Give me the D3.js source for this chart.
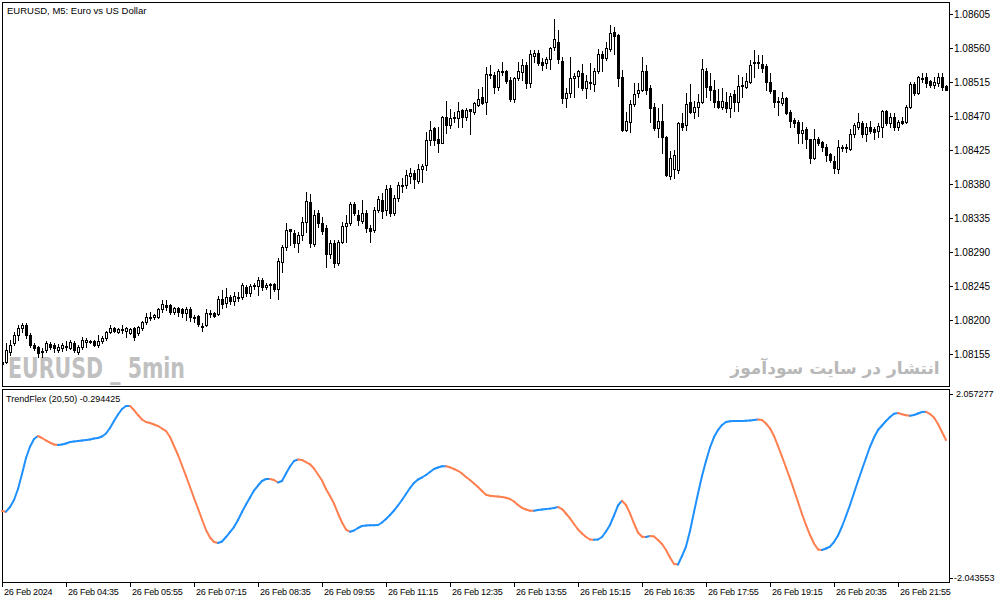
<!doctype html>
<html>
<head>
<meta charset="utf-8">
<script src="https://d3js.org/d3.v7.min.js"></script>
<style>
  body { margin: 0; background: #fff; }
  svg { display: block; }
  text { font-family: "Liberation Sans", Arial, sans-serif; fill: #000; }
</style>
</head>
<body>
<div class="chart"></div>
<script>
// EURUSD M5, 26 Feb 2024, one bar every 5 minutes from 03:15
var opens = [
1.08144,1.08144,1.08158,1.08170,1.08180,1.08189,1.08193,1.08180,1.08167,1.08164,
1.08158,1.08160,1.08168,1.08167,1.08160,1.08163,1.08164,1.08163,1.08170,1.08158,
1.08164,1.08171,1.08171,1.08172,1.08167,1.08172,1.08176,1.08184,1.08189,1.08184,
1.08187,1.08185,1.08183,1.08189,1.08183,1.08189,1.08197,1.08203,1.08204,1.08204,
1.08215,1.08220,1.08220,1.08211,1.08216,1.08215,1.08209,1.08215,1.08204,1.08205,
1.08192,1.08193,1.08208,1.08209,1.08208,1.08228,1.08222,1.08230,1.08225,1.08229,
1.08230,1.08244,1.08236,1.08245,1.08245,1.08253,1.08244,1.08246,1.08248,1.08241,
1.08277,1.08297,1.08320,1.08315,1.08302,1.08312,1.08330,1.08356,1.08301,1.08342,
1.08328,1.08322,1.08287,1.08302,1.08275,1.08303,1.08324,1.08328,1.08353,1.08339,
1.08331,1.08342,1.08322,1.08319,1.08346,1.08359,1.08346,1.08375,1.08342,1.08361,
1.08377,1.08379,1.08391,1.08395,1.08384,1.08400,1.08405,1.08438,1.08454,1.08440,
1.08434,1.08469,1.08458,1.08467,1.08467,1.08478,1.08469,1.08479,1.08475,1.08485,
1.08495,1.08488,1.08524,1.08524,1.08508,1.08528,1.08530,1.08518,1.08492,1.08520,
1.08528,1.08537,1.08514,1.08549,1.08553,1.08541,1.08540,1.08545,1.08561,1.08568,
1.08543,1.08494,1.08500,1.08520,1.08523,1.08527,1.08507,1.08514,1.08512,1.08530,
1.08552,1.08547,1.08559,1.08581,1.08577,1.08522,1.08451,1.08462,1.08486,1.08500,
1.08504,1.08530,1.08507,1.08482,1.08454,1.08463,1.08442,1.08391,1.08400,1.08398,
1.08461,1.08458,1.08488,1.08475,1.08482,1.08488,1.08530,1.08510,1.08504,1.08490,
1.08482,1.08488,1.08481,1.08499,1.08488,1.08510,1.08508,1.08515,1.08540,1.08541,
1.08539,1.08536,1.08515,1.08504,1.08490,1.08487,1.08494,1.08475,1.08465,1.08462,
1.08447,1.08453,1.08440,1.08414,1.08440,1.08436,1.08429,1.08420,1.08410,1.08400,
1.08429,1.08428,1.08426,1.08446,1.08455,1.08461,1.08446,1.08455,1.08453,1.08450,
1.08455,1.08477,1.08461,1.08469,1.08455,1.08463,1.08462,1.08482,1.08512,1.08500,
1.08519,1.08522,1.08516,1.08511,1.08514,1.08522,1.08510];

var highs = [
1.08146,1.08170,1.08173,1.08184,1.08193,1.08196,1.08196,1.08183,1.08170,1.08166,
1.08163,1.08172,1.08171,1.08170,1.08168,1.08170,1.08172,1.08173,1.08172,1.08167,
1.08177,1.08176,1.08173,1.08173,1.08180,1.08179,1.08185,1.08193,1.08191,1.08189,
1.08193,1.08191,1.08189,1.08191,1.08192,1.08199,1.08209,1.08211,1.08208,1.08216,
1.08226,1.08226,1.08221,1.08217,1.08217,1.08216,1.08217,1.08217,1.08207,1.08207,
1.08196,1.08215,1.08213,1.08211,1.08232,1.08240,1.08242,1.08233,1.08237,1.08237,
1.08249,1.08246,1.08248,1.08249,1.08257,1.08256,1.08249,1.08249,1.08249,1.08282,
1.08299,1.08328,1.08320,1.08319,1.08316,1.08336,1.08369,1.08367,1.08346,1.08346,
1.08336,1.08326,1.08306,1.08306,1.08306,1.08330,1.08339,1.08356,1.08356,1.08346,
1.08359,1.08346,1.08326,1.08350,1.08364,1.08368,1.08379,1.08379,1.08365,1.08383,
1.08388,1.08398,1.08401,1.08398,1.08406,1.08406,1.08449,1.08463,1.08455,1.08455,
1.08470,1.08490,1.08479,1.08475,1.08488,1.08479,1.08481,1.08479,1.08488,1.08506,
1.08508,1.08535,1.08537,1.08528,1.08532,1.08541,1.08531,1.08522,1.08522,1.08541,
1.08545,1.08541,1.08557,1.08557,1.08557,1.08547,1.08548,1.08561,1.08598,1.08584,
1.08548,1.08507,1.08548,1.08527,1.08531,1.08539,1.08524,1.08540,1.08533,1.08559,
1.08556,1.08568,1.08590,1.08588,1.08579,1.08531,1.08475,1.08491,1.08514,1.08514,
1.08548,1.08537,1.08511,1.08487,1.08481,1.08486,1.08443,1.08424,1.08425,1.08462,
1.08474,1.08500,1.08512,1.08490,1.08499,1.08545,1.08533,1.08527,1.08518,1.08506,
1.08507,1.08502,1.08500,1.08504,1.08524,1.08522,1.08527,1.08544,1.08557,1.08551,
1.08551,1.08539,1.08527,1.08504,1.08495,1.08502,1.08495,1.08478,1.08467,1.08465,
1.08462,1.08455,1.08440,1.08453,1.08442,1.08437,1.08433,1.08421,1.08417,1.08438,
1.08432,1.08433,1.08453,1.08461,1.08474,1.08463,1.08461,1.08463,1.08455,1.08461,
1.08478,1.08478,1.08474,1.08474,1.08465,1.08469,1.08485,1.08515,1.08515,1.08523,
1.08527,1.08527,1.08518,1.08522,1.08527,1.08527,1.08511];

var lows = [
1.08139,1.08143,1.08154,1.08167,1.08173,1.08184,1.08176,1.08164,1.08160,1.08151,
1.08151,1.08158,1.08162,1.08158,1.08158,1.08159,1.08160,1.08162,1.08158,1.08155,
1.08162,1.08164,1.08170,1.08166,1.08164,1.08170,1.08173,1.08183,1.08184,1.08183,
1.08183,1.08177,1.08181,1.08173,1.08180,1.08187,1.08195,1.08200,1.08201,1.08203,
1.08211,1.08213,1.08208,1.08208,1.08205,1.08204,1.08200,1.08199,1.08197,1.08192,
1.08185,1.08192,1.08204,1.08204,1.08207,1.08216,1.08217,1.08221,1.08220,1.08225,
1.08228,1.08232,1.08232,1.08241,1.08233,1.08240,1.08241,1.08229,1.08238,1.08228,
1.08264,1.08293,1.08299,1.08297,1.08290,1.08306,1.08316,1.08297,1.08298,1.08323,
1.08314,1.08270,1.08282,1.08270,1.08273,1.08302,1.08303,1.08326,1.08339,1.08326,
1.08328,1.08316,1.08303,1.08316,1.08343,1.08335,1.08339,1.08338,1.08339,1.08357,
1.08369,1.08375,1.08381,1.08375,1.08381,1.08383,1.08398,1.08432,1.08432,1.08422,
1.08434,1.08447,1.08454,1.08462,1.08455,1.08455,1.08465,1.08446,1.08473,1.08483,
1.08486,1.08473,1.08520,1.08500,1.08504,1.08524,1.08514,1.08490,1.08488,1.08518,
1.08518,1.08507,1.08508,1.08541,1.08537,1.08531,1.08533,1.08532,1.08557,1.08540,
1.08487,1.08482,1.08495,1.08495,1.08508,1.08504,1.08494,1.08506,1.08503,1.08527,
1.08530,1.08544,1.08556,1.08552,1.08510,1.08450,1.08450,1.08449,1.08483,1.08495,
1.08503,1.08499,1.08462,1.08451,1.08442,1.08421,1.08390,1.08387,1.08388,1.08395,
1.08451,1.08451,1.08474,1.08467,1.08470,1.08487,1.08495,1.08491,1.08482,1.08481,
1.08479,1.08475,1.08469,1.08477,1.08477,1.08495,1.08507,1.08514,1.08522,1.08533,
1.08528,1.08504,1.08500,1.08482,1.08471,1.08485,1.08473,1.08455,1.08455,1.08434,
1.08434,1.08428,1.08408,1.08413,1.08432,1.08424,1.08410,1.08409,1.08395,1.08395,
1.08424,1.08422,1.08425,1.08442,1.08453,1.08442,1.08437,1.08447,1.08440,1.08442,
1.08442,1.08458,1.08455,1.08451,1.08451,1.08460,1.08461,1.08481,1.08498,1.08499,
1.08515,1.08508,1.08508,1.08507,1.08510,1.08504,1.08504];

var closes = [
1.08142,1.08160,1.08167,1.08180,1.08189,1.08193,1.08180,1.08167,1.08163,1.08156,
1.08159,1.08170,1.08164,1.08163,1.08164,1.08167,1.08166,1.08171,1.08160,1.08164,
1.08173,1.08173,1.08172,1.08167,1.08172,1.08176,1.08184,1.08189,1.08185,1.08188,
1.08188,1.08189,1.08188,1.08177,1.08191,1.08197,1.08204,1.08204,1.08207,1.08215,
1.08221,1.08217,1.08211,1.08216,1.08211,1.08209,1.08215,1.08204,1.08203,1.08195,
1.08191,1.08209,1.08209,1.08205,1.08228,1.08221,1.08230,1.08225,1.08232,1.08230,
1.08246,1.08236,1.08245,1.08246,1.08253,1.08244,1.08246,1.08248,1.08241,1.08278,
1.08297,1.08319,1.08318,1.08302,1.08312,1.08330,1.08357,1.08302,1.08339,1.08328,
1.08318,1.08287,1.08302,1.08275,1.08303,1.08324,1.08328,1.08353,1.08342,1.08332,
1.08342,1.08322,1.08318,1.08346,1.08360,1.08344,1.08373,1.08342,1.08361,1.08379,
1.08379,1.08392,1.08395,1.08387,1.08400,1.08404,1.08438,1.08451,1.08438,1.08434,
1.08469,1.08458,1.08467,1.08469,1.08477,1.08469,1.08478,1.08477,1.08487,1.08492,
1.08487,1.08526,1.08526,1.08508,1.08530,1.08530,1.08516,1.08492,1.08520,1.08530,
1.08537,1.08514,1.08552,1.08553,1.08540,1.08537,1.08545,1.08560,1.08572,1.08545,
1.08494,1.08500,1.08520,1.08523,1.08530,1.08507,1.08516,1.08515,1.08530,1.08552,
1.08547,1.08560,1.08580,1.08576,1.08520,1.08451,1.08463,1.08486,1.08499,1.08504,
1.08530,1.08504,1.08481,1.08454,1.08463,1.08442,1.08392,1.08414,1.08418,1.08461,
1.08455,1.08486,1.08475,1.08482,1.08488,1.08532,1.08508,1.08504,1.08488,1.08482,
1.08490,1.08481,1.08496,1.08488,1.08510,1.08511,1.08516,1.08537,1.08541,1.08540,
1.08533,1.08515,1.08503,1.08488,1.08488,1.08494,1.08474,1.08463,1.08461,1.08447,
1.08451,1.08440,1.08414,1.08440,1.08434,1.08429,1.08418,1.08412,1.08401,1.08429,
1.08428,1.08429,1.08446,1.08458,1.08462,1.08446,1.08455,1.08450,1.08449,1.08457,
1.08477,1.08461,1.08469,1.08455,1.08462,1.08461,1.08482,1.08512,1.08500,1.08522,
1.08520,1.08514,1.08511,1.08515,1.08522,1.08508,1.08504];

// TrendFlex (20,50), one value per bar
var trendflex = [
-0.552,-0.568,-0.463,-0.306,-0.060,0.275,0.633,0.885,1.058,1.125,
1.080,1.024,0.979,0.935,0.923,0.935,0.957,0.991,1.002,1.013,
1.024,1.035,1.046,1.069,1.080,1.114,1.181,1.304,1.460,1.605,
1.728,1.795,1.795,1.706,1.594,1.494,1.438,1.415,1.382,1.348,
1.292,1.237,1.102,0.901,0.700,0.465,0.230,-0.016,-0.262,-0.496,
-0.742,-0.977,-1.145,-1.245,-1.268,-1.234,-1.134,-1.022,-0.910,-0.754,
-0.575,-0.407,-0.250,-0.094,0.018,0.119,0.163,0.163,0.141,0.085,
0.119,0.286,0.443,0.566,0.599,0.588,0.543,0.492,0.398,0.264,
0.130,-0.060,-0.217,-0.385,-0.608,-0.809,-0.966,-1.015,-0.988,-0.932,
-0.888,-0.877,-0.872,-0.870,-0.865,-0.809,-0.731,-0.642,-0.541,-0.429,
-0.306,-0.172,-0.038,0.074,0.152,0.197,0.253,0.320,0.387,0.420,
0.447,0.449,0.425,0.387,0.347,0.286,0.208,0.141,0.063,-0.016,
-0.105,-0.190,-0.212,-0.221,-0.228,-0.239,-0.257,-0.284,-0.340,-0.418,
-0.481,-0.519,-0.546,-0.548,-0.530,-0.519,-0.508,-0.499,-0.485,-0.463,
-0.508,-0.608,-0.716,-0.843,-0.966,-1.055,-1.134,-1.190,-1.196,-1.190,
-1.134,-1.011,-0.865,-0.653,-0.429,-0.322,-0.418,-0.604,-0.832,-1.033,
-1.127,-1.134,-1.111,-1.123,-1.201,-1.290,-1.424,-1.592,-1.737,-1.749,
-1.559,-1.346,-0.999,-0.575,-0.161,0.230,0.566,0.868,1.102,1.259,
1.371,1.438,1.456,1.460,1.460,1.460,1.465,1.471,1.482,1.494,
1.482,1.404,1.297,1.125,0.901,0.666,0.420,0.179,-0.083,-0.351,
-0.619,-0.865,-1.089,-1.279,-1.413,-1.424,-1.391,-1.351,-1.245,-1.100,
-0.899,-0.664,-0.418,-0.150,0.119,0.376,0.633,0.885,1.091,1.259,
1.360,1.460,1.550,1.621,1.639,1.612,1.588,1.579,1.594,1.628,
1.661,1.666,1.617,1.538,1.393,1.214,1.035];

var priceTicks = [1.08155,1.08200,1.08245,1.08290,1.08335,1.08380,1.08425,1.08470,1.08515,1.08560,1.08605];
var flexRange = [-2.043553, 2.057277];
var timeBars = [0,16,32,48,64,80,96,112,128,144,160,176,192,208,224];
var timeLabels = ["26 Feb 2024","26 Feb 04:35","26 Feb 05:55","26 Feb 07:15","26 Feb 08:35",
  "26 Feb 09:55","26 Feb 11:15","26 Feb 12:35","26 Feb 13:55","26 Feb 15:15",
  "26 Feb 16:35","26 Feb 17:55","26 Feb 19:15","26 Feb 20:35","26 Feb 21:55"];

var width = 1003, height = 603;
var left = 2, right = 949, mainTop = 2, mainBottom = 386, subTop = 389, subBottom = 582;

var svg = d3.select('.chart').append('svg')
  .attr('width', width).attr('height', height);

var x = d3.scaleLinear().domain([0, closes.length - 1]).range([2, 946]);
var y = d3.scaleLinear().domain([1.08155, 1.08605]).range([354, 14]);
var yf = d3.scaleLinear().domain(flexRange).range([577.7, 394.3]);

svg.append('defs').append('clipPath').attr('id', 'mainclip')
  .append('rect').attr('x', left).attr('y', mainTop).attr('width', right - left).attr('height', mainBottom - mainTop);

// watermarks
svg.append('text')
  .attr('x', 8).attr('y', 378)
  .attr('textLength', 177).attr('lengthAdjust', 'spacingAndGlyphs')
  .style('font-family', '"Liberation Sans Narrow", "DejaVu Sans Condensed", sans-serif')
  .style('font-weight', 'bold').style('font-size', '29px').style('fill', '#c0c0c0')
  .text('EURUSD _ 5min');

svg.append('text')
  .attr('x', 835).attr('y', 374)
  .attr('text-anchor', 'middle')
  .style('font-family', '"DejaVu Sans", sans-serif')
  .style('font-weight', 'bold').style('font-size', '17px').style('fill', '#b8b8b8')
  .text('انتشار در سایت سودآموز');

// candles
var candles = svg.append('g').attr('clip-path', 'url(#mainclip)')
  .attr('shape-rendering', 'crispEdges')
  .selectAll('g').data(closes).enter().append('g');

candles.append('line')
  .attr('x1', function(d, i){ return Math.round(x(i)) + 0.5; })
  .attr('x2', function(d, i){ return Math.round(x(i)) + 0.5; })
  .attr('y1', function(d, i){ return Math.round(y(highs[i])); })
  .attr('y2', function(d, i){ return Math.round(y(lows[i])) + 1; })
  .style('stroke', '#000').style('stroke-width', 1);

candles.append('rect')
  .attr('x', function(d, i){ return Math.round(x(i)) - (closes[i] > opens[i] ? 0.5 : 1); })
  .attr('y', function(d, i){
    var t = Math.round(y(Math.max(opens[i], closes[i])));
    return closes[i] > opens[i] ? t + 0.5 : t;
  })
  .attr('width', function(d, i){ return closes[i] > opens[i] ? 2 : 3; })
  .attr('height', function(d, i){
    var t = Math.round(y(Math.max(opens[i], closes[i])));
    var b = Math.round(y(Math.min(opens[i], closes[i])));
    return closes[i] > opens[i] ? Math.max(b - t, 1) : Math.max(b - t, 0) + 1;
  })
  .style('fill', function(d, i){ return closes[i] > opens[i] ? '#fff' : '#000'; })
  .style('stroke', function(d, i){ return closes[i] > opens[i] ? '#000' : 'none'; })
  .style('stroke-width', 1);

// panel frames
svg.append('rect').attr('x', left + 0.5).attr('y', mainTop + 0.5)
  .attr('width', right - left).attr('height', mainBottom - mainTop)
  .style('fill', 'none').style('stroke', '#000');
svg.append('rect').attr('x', left + 0.5).attr('y', subTop + 0.5)
  .attr('width', right - left).attr('height', subBottom - subTop)
  .style('fill', 'none').style('stroke', '#000');

// price axis
var pa = svg.append('g').attr('shape-rendering', 'crispEdges');
pa.selectAll('line').data(priceTicks).enter().append('line')
  .attr('x1', right + 1).attr('x2', right + 4)
  .attr('y1', function(d){ return Math.round(y(d)) + 0.5; })
  .attr('y2', function(d){ return Math.round(y(d)) + 0.5; })
  .style('stroke', '#000');
pa.selectAll('text').data(priceTicks).enter().append('text')
  .attr('x', right + 5).attr('y', function(d){ return y(d); })
  .attr('dy', '0.35em').style('font-size', '10px')
  .text(function(d){ return d.toFixed(5); });

// TrendFlex axis
var fa = svg.append('g').attr('shape-rendering', 'crispEdges');
fa.selectAll('line').data(flexRange).enter().append('line')
  .attr('x1', right + 1).attr('x2', right + 4)
  .attr('y1', function(d){ return Math.round(yf(d)) + 0.5; })
  .attr('y2', function(d){ return Math.round(yf(d)) + 0.5; })
  .style('stroke', '#000');
fa.selectAll('text').data(flexRange).enter().append('text')
  .attr('x', function(d){ return d < 0 ? right + 5 : right + 7; })
  .attr('y', function(d){ return yf(d); })
  .attr('dy', '0.35em').style('font-size', '9px')
  .text(function(d){ return d.toFixed(6); });

// TrendFlex line, blue while rising, coral while falling
var line = d3.line()
  .x(function(d){ return x(d); })
  .y(function(d){ return yf(trendflex[d]); });
var segs = d3.range(1, trendflex.length);
svg.append('g').selectAll('path').data(segs).enter().append('path')
  .attr('d', function(i){ return line([i - 1, i]); })
  .style('fill', 'none')
  .style('stroke-width', 2)
  .style('stroke-linecap', 'round')
  .style('stroke', function(i){ return trendflex[i] >= trendflex[i - 1] ? '#1e90ff' : '#ff7f50'; });

// time axis
var ta = svg.append('g');
ta.selectAll('line').data(timeBars).enter().append('line')
  .attr('shape-rendering', 'crispEdges')
  .attr('x1', function(d){ return Math.round(x(d)) + 0.5; })
  .attr('x2', function(d){ return Math.round(x(d)) + 0.5; })
  .attr('y1', subBottom).attr('y2', subBottom + 5)
  .style('stroke', '#000');
ta.selectAll('text').data(timeBars).enter().append('text')
  .attr('x', function(d){ return Math.round(x(d)) + 2; })
  .attr('y', 595)
  .style('font-size', '9px').style('letter-spacing', '-0.2px')
  .text(function(d, i){ return timeLabels[i]; });

// titles
svg.append('text').attr('x', 7).attr('y', 13.5)
  .style('font-size', '9.5px').text('EURUSD, M5:  Euro vs US Dollar');
svg.append('text').attr('x', 6).attr('y', 402)
  .style('font-size', '9px').text('TrendFlex (20,50) -0.294425');
</script>
</body>
</html>
